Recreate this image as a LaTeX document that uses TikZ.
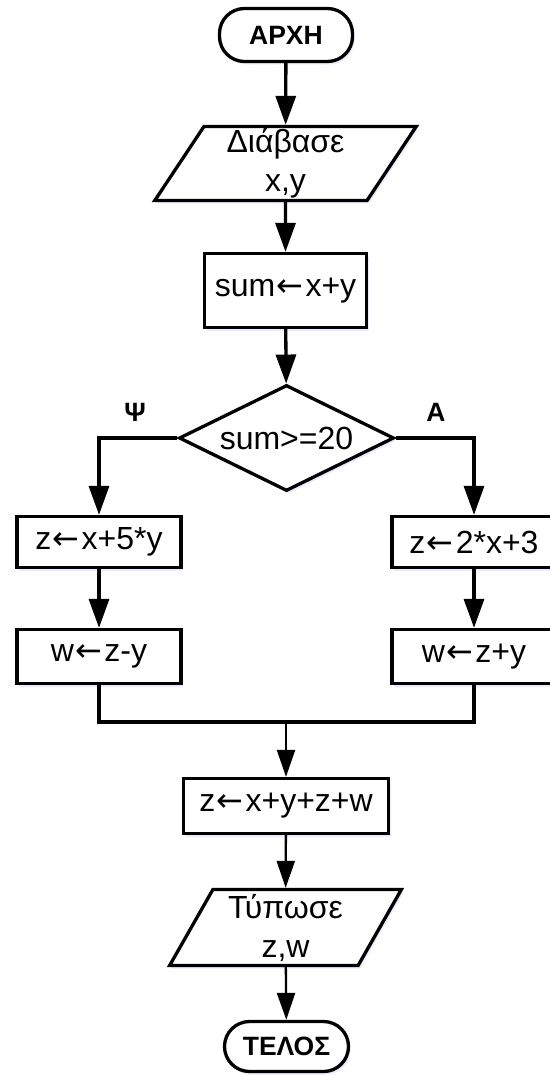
\documentclass[tikz,border=0pt]{standalone}
\usepackage{fontspec}
\setmainfont{Liberation Sans}
\newfontfamily\arrfont{DejaVu Sans}
\usetikzlibrary{shapes.geometric,arrows.meta,shadows}
\newcommand{\myarrow}{\kern1.5pt{\arrfont ←}\kern2pt}
\begin{document}
\begin{tikzpicture}[x=1pt,y=-1pt,
  every node/.style={font=\fontsize{32}{39}\selectfont, inner sep=0pt},
  shade/.style={drop shadow={shadow xshift=2pt, shadow yshift=-3pt, fill=blue!12!white, opacity=0.7}},
  term/.style={draw, line width=3.3pt, rectangle, rounded corners=25pt, fill=white, shade,
    minimum width=133pt, minimum height=53pt, font=\fontsize{26.5}{30}\selectfont\bfseries},
  proc/.style={draw, line width=3.3pt, rectangle, fill=white, shade},
  io/.style={draw, line width=3.3pt, trapezium, trapezium left angle=63, trapezium right angle=117,
    trapezium stretches=true, fill=white, shade, align=center},
  dec/.style={draw, line width=3.3pt, diamond, shape aspect=2.03, fill=white, shade, minimum width=215pt, minimum height=106pt},
  lbl/.style={font=\fontsize{26.5}{30}\selectfont\bfseries},
  flow/.style={line width=3.3pt, -{Triangle[length=29pt,width=20pt]}},
  flowthin/.style={line width=2.3pt, -{Triangle[length=27pt,width=18pt]}},
  link/.style={line width=3.3pt}
]
\useasboundingbox (0,0) rectangle (549,1075);

\node[term] (start) at (286,35) {ΑΡΧΗ};
\node[io, minimum width=262pt, minimum height=74pt] (read) at (285.5,163.5) {Διάβασε\\x,y};
\node[proc, minimum width=162pt, minimum height=74pt] (sum) at (285.5,290.5) {sum\myarrow x+y};
\node[dec] (cond) at (286.5,438) {sum>=20};
\node[lbl] (no) at (135,412) {Ψ};
\node[lbl] (yes) at (436,412) {Α};
\node[proc, minimum width=164pt, minimum height=51pt] (zl) at (99,542) {z\myarrow x+5*y};
\node[proc, minimum width=164pt, minimum height=54pt] (wl) at (99,656.5) {w\myarrow z-y};
\node[proc, minimum width=164pt, minimum height=51pt] (zr) at (474,542) {z\myarrow 2*x+3};
\node[proc, minimum width=164pt, minimum height=54pt] (wr) at (474,656.5) {w\myarrow z+y};
\coordinate (join) at (286,722);
\node[proc, minimum width=205pt, minimum height=55pt] (final) at (286,806) {z\myarrow x+y+z+w};
\node[io, minimum width=232pt, minimum height=76pt] (print) at (285.5,927.5) {Τύπωσε\\z,w};
\node[term, minimum width=124pt, minimum height=50pt] (end) at (286.5,1046.5) {ΤΕΛΟΣ};

\draw[flow] (start) -- (read);
\draw[flow] (read) -- (sum);
\draw[flow] (sum) -- (cond);
\draw[flow] (cond.west) -| (zl.north);
\draw[flow] (cond.east) -| (zr.north);
\draw[flow] (zl) -- (wl);
\draw[flow] (zr) -- (wr);
\draw[link] (wl.south) |- (join) -| (wr.south);
\draw[flowthin] (join) -- (final);
\draw[flowthin] (final) -- (print);
\draw[flowthin] (print) -- (end);
\end{tikzpicture}
\end{document}
